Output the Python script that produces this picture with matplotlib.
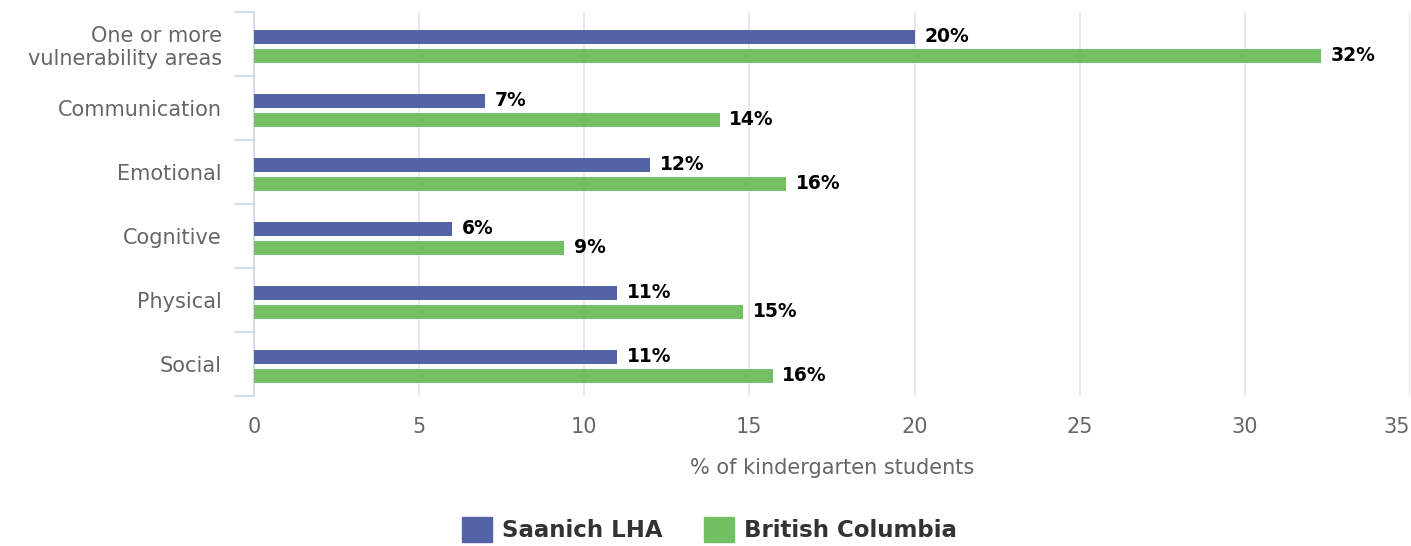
import numpy as np
import matplotlib
matplotlib.use("Agg")
import matplotlib.pyplot as plt
from matplotlib.patches import Patch

# chart data
categories = ["One or more\nvulnerability areas", "Communication", "Emotional",
              "Cognitive", "Physical", "Social"]
saanich = [20.0, 7.0, 12.0, 6.0, 11.0, 11.0]
bc = [32.3, 14.1, 16.1, 9.4, 14.8, 15.7]
series_names = ["Saanich LHA", "British Columbia"]
x_ticks = [0, 5, 10, 15, 20, 25, 30, 35]

blue = "#5463a6"
green = "#72c063"
axis_col = "#ccd6eb"
grid_col = "#e3e3e3"
text_col = "#666666"

plt.rcParams["font.family"] = ["DejaVu Sans"]

fig = plt.figure(figsize=(14.11, 5.46), dpi=100)
ax = fig.add_axes([254 / 1411, 1 - 396 / 546, 1156 / 1411, 384 / 546])

y = np.arange(len(categories))
h = 0.22
off_a, off_b = -0.11, 0.185
ax.barh(y + off_a, saanich, height=h, color=blue, zorder=3)
ax.barh(y + off_b, bc, height=h, color=green, zorder=3)

# value labels
for yi, v in zip(y, saanich):
    ax.annotate(f"{round(v)}%", (v, yi + off_a), xytext=(7, 0), textcoords="offset points",
                va="center", ha="left", fontsize=13.5, fontweight="bold", color="black", zorder=4)
for yi, v in zip(y, bc):
    ax.annotate(f"{round(v)}%", (v, yi + off_b), xytext=(7, 0), textcoords="offset points",
                va="center", ha="left", fontsize=13.5, fontweight="bold", color="black", zorder=4)

ax.set_xlim(0, 35)
ax.set_ylim(len(categories) - 0.5, -0.5)
ax.set_xticks(x_ticks)
ax.set_xticklabels([str(t) for t in x_ticks], color=text_col, fontsize=15)
ax.get_xticklabels()[-1].set_ha("right")
ax.tick_params(axis="x", length=0, pad=15)

ax.set_yticks(y)
ax.set_yticklabels(categories, color=text_col, fontsize=15, linespacing=1.2,
                   multialignment="right")
ax.tick_params(axis="y", length=0, pad=23)
# category separator ticks
ax.set_yticks(np.arange(-0.5, len(categories)), minor=True)
ax.tick_params(axis="y", which="minor", length=14, width=1.2, color=axis_col)

ax.grid(axis="x", color=grid_col, linewidth=1.2, zorder=0)
for s in ["top", "right", "bottom"]:
    ax.spines[s].set_visible(False)
ax.spines["left"].set_color(axis_col)
ax.spines["left"].set_linewidth(1.2)

ax.set_xlabel("% of kindergarten students", color=text_col, fontsize=15, labelpad=15)

handles = [Patch(color=blue, label=series_names[0]),
           Patch(color=green, label=series_names[1])]
leg = fig.legend(handles=handles, loc="center", bbox_to_anchor=(0.5025, 0.03),
                 ncol=2, frameon=False, handlelength=1.35, handleheight=1.35,
                 columnspacing=1.8, handletextpad=0.4,
                 prop={"size": 16.5, "weight": "bold"})
for t in leg.get_texts():
    t.set_color("#333333")

fig.savefig("out.png", dpi=100)
